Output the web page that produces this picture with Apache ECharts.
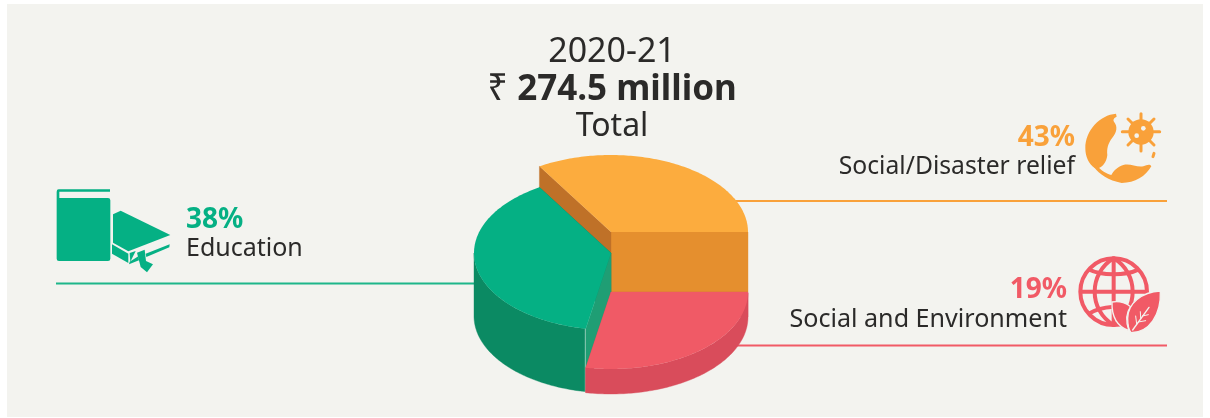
<!DOCTYPE html>
<html>
<head>
<meta charset="utf-8">
<style>html,body{margin:0;padding:0;background:#fff}#c{width:1210px;height:418px}</style>
<script src="https://cdn.jsdelivr.net/npm/echarts@6/dist/echarts.min.js"></script>
</head>
<body>
<div id="c"></div>
<script>
// ---- data ----
const categories = ['Social/Disaster relief', 'Education', 'Social and Environment'];
const statedPercent = [43, 38, 19];
// the illustration is not to scale: these are the shares of the circle as actually drawn
const drawnShare = [33.75, 38.3, 27.95];
const heading = '2020-21';
const totalAmount = '274.5 million';
const totalLabel = 'Total';

// ---- styling / layout ----
const BG = '#f3f3ef', INK = '#2b2a29';
const FONT = '"Noto Sans", "Open Sans", sans-serif';
const pieCx = 611, pieRx = 137, pieRy = 77;
const faceTop = [232, 253, 292];        // exploded levels of the three slices
const depth = [60, 63, 25];
const topColor = ['#fcac3e', '#05b084', '#f05a66'];
const sideColor = ['#e58f2e', '#0b8a63', '#d94c5b'];
const cutStart = ['#e58f2e', '#0b8a63', '#d94c5b'];
const cutEnd = ['#bf7128', '#1f9e74', '#d94c5b'];
const accent = ['#f9a13a', '#05b084', '#f15a66'];
const lineColor = ['#f9a13a', '#1db68a', '#f15a66'];

function pt(deg, cy) {
  const r = deg * Math.PI / 180;
  return [pieCx + pieRx * Math.cos(r), cy - pieRy * Math.sin(r)];
}

function renderSlice(params, api) {
  const i = params.dataIndex;
  let a0 = 0;
  for (let k = 0; k < i; k++) a0 += drawnShare[k] * 3.6;
  const a1 = a0 + api.value(0) * 3.6;
  const cy = faceTop[i], d = depth[i], children = [];
  const wall = (deg, fill) => {
    const p = pt(deg, cy);
    children.push({ type: 'polygon', shape: { points: [[pieCx, cy], p, [p[0], p[1] + d], [pieCx, cy + d]] },
      style: { fill: fill, stroke: fill, lineWidth: 0.4 } });
  };
  wall(a0, cutStart[i]);
  wall(a1, cutEnd[i]);
  // outer rim: only the front half of the ellipse shows
  const from = Math.max(a0, 180), to = Math.min(a1, 360);
  if (to > from) {
    const upper = [], lower = [];
    for (let a = from; a <= to + 1e-6; a += 1) { const p = pt(a, cy); upper.push(p); lower.unshift([p[0], p[1] + d]); }
    children.push({ type: 'polygon', shape: { points: upper.concat(lower) }, style: { fill: sideColor[i], stroke: sideColor[i], lineWidth: 0.4 } });
  }
  const face = [[pieCx, cy]];
  const n = Math.ceil(a1 - a0);
  for (let s = 0; s <= n; s++) face.push(pt(a0 + (a1 - a0) * s / n, cy));
  children.push({ type: 'polygon', shape: { points: face }, style: { fill: topColor[i] } });
  return { type: 'group', children: children };
}

// icons, path coordinates are in 3x crop units, placed by the group transform
function icon(x, y, parts) {
  return { type: 'group', x: x, y: y, scaleX: 1 / 3, scaleY: 1 / 3, children: parts };
}
const P = (d, style) => ({ type: 'path', shape: { pathData: d }, style: style });
const C = (cx, cy, r, style) => ({ type: 'circle', shape: { cx: cx, cy: cy, r: r }, style: style });
const L = (x1, y1, x2, y2, stroke, w) => ({ type: 'line', shape: { x1, y1, x2, y2 }, style: { stroke: stroke, lineWidth: w, lineCap: 'round' } });

function bookIcon() {
  const f = { fill: accent[1] };
  return { type: 'group', children: [
    icon(40, 175, [P('M50 50 Q50 43 56 43 L210 43 L210 50 L58 50 L58 69 L204 69 Q211 69 211 76 L211 251 Q211 258 204 258 L57 258 Q50 258 50 251 Z', f)]),
    icon(105, 205, [
      P('M24 28 L47 17 L196 90 L70 139 L24 113 Z', f),
      P('M21 118 L70 146 L70 174 L21 146 Z', f),
      P('M74 144 L92 138 L76 170 Z', f),
      P('M72 178 L102 166 L100 154 L74 170 Z', f),
      P('M122 146 L194 118 L193 127 L124 156 Z', f),
      P('M96 143 L119 134 L123 168 L144 178 L126 202 L107 186 Z', f)
    ])
  ] };
}
function earthIcon() {
  const f = { fill: accent[0] }, c = accent[0];
  const spikes = [[183, 26, 183, 138], [127, 80, 239, 80], [144, 42, 222, 120], [222, 42, 144, 120]];
  return icon(1080, 105, [
    P('M108 26 C60 30 16 75 16 130 C16 155 26 177 45 190 C64 194 80 172 82 150 C80 130 84 115 97 98 C110 82 114 65 102 50 C98 45 102 38 110 35 Z', f),
    P('M42 186 C58 208 85 226 125 234 C165 234 197 214 214 184 C208 175 200 182 190 184 C170 188 150 174 130 180 C112 186 100 198 94 210 C80 206 62 196 52 182 Z', f),
    L(222, 145, 219, 155, c, 9)
  ].concat(spikes.map(s => L(s[0], s[1], s[2], s[3], c, 9))).concat([
    C(183, 81, 38, f), C(190, 70, 7, { fill: BG }), C(170, 92, 7, { fill: BG })
  ]));
}
function globeIcon() {
  const c = accent[2], s = { fill: 'none', stroke: c, lineWidth: 12 };
  return icon(1075, 250, [
    C(116, 125, 100, s),
    P('M116 25 C40 70 40 180 116 225', s),
    P('M116 25 C192 70 192 180 116 225', s),
    L(116, 25, 116, 225, c, 12),
    L(18, 125, 214, 125, c, 12),
    P('M40 58 C80 78 150 78 192 58', s),
    P('M40 192 C60 178 85 172 116 170', s),
    P('M111 156 C110 190 118 227 162 242 C152 215 152 190 167 170 C152 158 130 153 111 156 Z', { fill: c, stroke: BG, lineWidth: 4 }),
    P('M256 123 C200 126 158 160 158 205 C158 225 163 242 168 248 C222 248 259 195 256 123 Z', { fill: c, stroke: BG, lineWidth: 4 }),
    L(173, 240, 222, 172, BG, 4),
    L(185, 222, 182, 198, BG, 3), L(197, 205, 196, 185, BG, 3),
    L(190, 216, 212, 212, BG, 3), L(202, 198, 220, 194, BG, 3)
  ]);
}
const iconMakers = [earthIcon, bookIcon, globeIcon];

function txt(text, x, y, font, fill, align) {
  return { type: 'text', z: 1, style: { text: text, x: x, y: y, font: font, fill: fill, textAlign: align || 'left', textVerticalAlign: 'middle' } };
}
function rule(x1, x2, y, color) {
  return { type: 'line', z: 1, shape: { x1: x1, y1: y, x2: x2, y2: y }, style: { stroke: color, lineWidth: 1.8 } };
}

const pct = v => v + '%';
const chart = echarts.init(document.getElementById('c'), null, { renderer: 'canvas' });
chart.setOption({
  animation: false,
  backgroundColor: '#ffffff',
  graphic: { elements: [
    { type: 'rect', z: 0, shape: { x: 7, y: 4, width: 1196, height: 413 }, style: { fill: BG } },
    rule(730, 1167, 201, lineColor[0]),
    rule(56, 480, 283.5, lineColor[1]),
    rule(730, 1167, 345.5, lineColor[2]),
    txt(heading, 612, 52, '34px ' + FONT, INK, 'center'),
    { type: 'text', z: 1, style: { text: '{r|₹} {b|' + totalAmount + '}', x: 612, y: 90, textAlign: 'center', textVerticalAlign: 'middle',
        font: '36px ' + FONT, fill: INK,
        rich: { r: { font: '36px ' + FONT, fill: INK }, b: { font: 'bold 35px ' + FONT, fill: INK } } } },
    txt(totalLabel, 612, 127, '32px ' + FONT, INK, 'center'),
    txt(pct(statedPercent[0]), 1075, 138, 'bold 28px ' + FONT, accent[0], 'right'),
    txt(categories[0], 1075, 167, '24.7px ' + FONT, INK, 'right'),
    txt(pct(statedPercent[1]), 186, 220, 'bold 28px ' + FONT, accent[1]),
    txt(categories[1], 186, 249, '25px ' + FONT, INK),
    txt(pct(statedPercent[2]), 1067, 290, 'bold 28px ' + FONT, accent[2], 'right'),
    txt(categories[2], 1067, 320, '25.1px ' + FONT, INK, 'right')
  ] },
  series: [
    { type: 'custom', coordinateSystem: 'none', z: 5, silent: true, data: drawnShare, renderItem: renderSlice },
    { type: 'custom', coordinateSystem: 'none', z: 5, silent: true, data: categories.map((c, i) => i),
      renderItem: (params) => iconMakers[params.dataIndex]() }
  ]
});
</script>
</body>
</html>
